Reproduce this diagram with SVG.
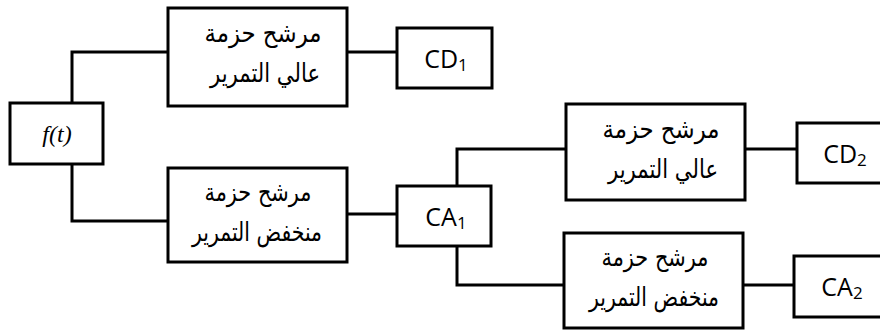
<svg xmlns="http://www.w3.org/2000/svg" width="880" height="332" viewBox="0 0 880 332">
<style>
.box{fill:#fff;stroke:#000;stroke-width:3}
.wire{fill:none;stroke:#000;stroke-width:3}
.ar{font-family:"DejaVu Sans","Liberation Sans",sans-serif;font-size:26px;text-anchor:middle;fill:#000}
.lbl{font-family:"Open Sans","Liberation Sans",sans-serif;font-size:25px;text-anchor:middle;fill:#000}
.sub{font-size:17px}
</style>
<rect width="880" height="332" fill="#fff"/>
<g id="connectors">
<polyline class="wire" points="72,103 72,52 168,52"/>
<polyline class="wire" points="72,164 72,221 168,221"/>
<line class="wire" x1="347" y1="52" x2="397" y2="52"/>
<line class="wire" x1="347" y1="214" x2="397" y2="214"/>
<polyline class="wire" points="457,186 457,149 566,149"/>
<polyline class="wire" points="457,246 457,285 564,285"/>
<line class="wire" x1="745" y1="149" x2="797" y2="149"/>
<line class="wire" x1="743" y1="285" x2="794" y2="285"/>
</g>
<g id="ft">
<rect class="box" x="10" y="103" width="93" height="61"/>
<text x="57" y="142" font-family="Liberation Serif, DejaVu Serif, serif" font-style="italic" font-size="24" text-anchor="middle" fill="#000">f(t)</text>
</g>
<g id="hpf1">
<rect class="box" x="168" y="8" width="179" height="98"/>
<text class="ar" x="263" y="42" direction="rtl" textLength="117" lengthAdjust="spacingAndGlyphs">مرشح حزمة</text>
<text class="ar" x="265" y="82" direction="rtl" textLength="110" lengthAdjust="spacingAndGlyphs">عالي التمرير</text>
</g>
<g id="cd1">
<rect class="box" x="397" y="28" width="95" height="60"/>
<text class="lbl" x="446" y="68">CD<tspan class="sub" dy="3">1</tspan></text>
</g>
<g id="lpf1">
<rect class="box" x="168" y="168" width="179" height="94"/>
<text class="ar" x="258" y="201" direction="rtl" textLength="107" lengthAdjust="spacingAndGlyphs">مرشح حزمة</text>
<text class="ar" x="257" y="241" direction="rtl" textLength="130" lengthAdjust="spacingAndGlyphs">منخفض التمرير</text>
</g>
<g id="ca1">
<rect class="box" x="397" y="186" width="94" height="60"/>
<text class="lbl" x="446" y="226">CA<tspan class="sub" dy="3">1</tspan></text>
</g>
<g id="hpf2">
<rect class="box" x="566" y="104" width="179" height="96"/>
<text class="ar" x="661" y="138" direction="rtl" textLength="117" lengthAdjust="spacingAndGlyphs">مرشح حزمة</text>
<text class="ar" x="663" y="178" direction="rtl" textLength="110" lengthAdjust="spacingAndGlyphs">عالي التمرير</text>
</g>
<g id="cd2">
<rect class="box" x="797" y="123" width="90" height="60"/>
<text class="lbl" x="845" y="163">CD<tspan class="sub" dy="3">2</tspan></text>
</g>
<g id="lpf2">
<rect class="box" x="564" y="233" width="179" height="95"/>
<text class="ar" x="655" y="266" direction="rtl" textLength="107" lengthAdjust="spacingAndGlyphs">مرشح حزمة</text>
<text class="ar" x="654" y="306" direction="rtl" textLength="130" lengthAdjust="spacingAndGlyphs">منخفض التمرير</text>
</g>
<g id="ca2">
<rect class="box" x="794" y="256" width="90" height="61"/>
<text class="lbl" x="842" y="296">CA<tspan class="sub" dy="3">2</tspan></text>
</g>
</svg>
